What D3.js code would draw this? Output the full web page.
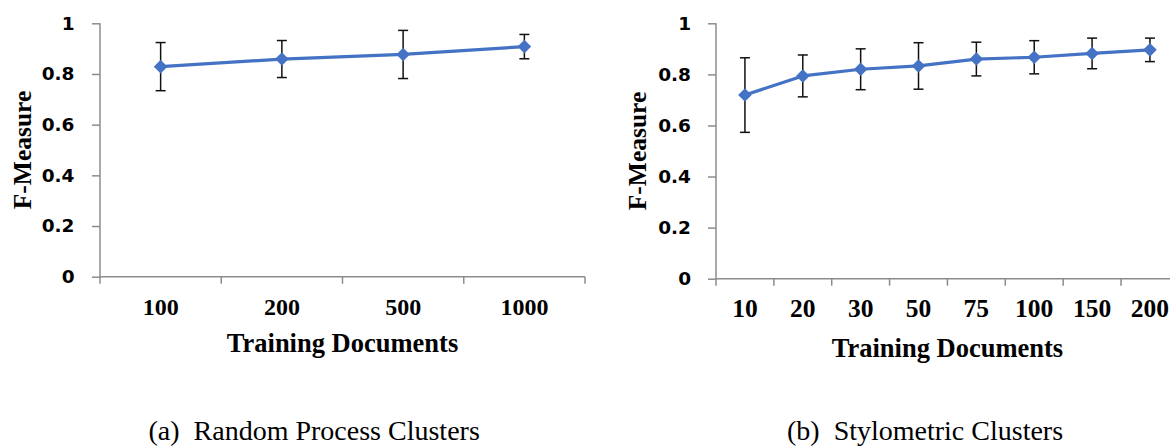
<!DOCTYPE html>
<html>
<head>
<meta charset="utf-8">
<script src="https://cdn.jsdelivr.net/npm/d3@7/dist/d3.min.js"></script>
<style>
  html, body { margin: 0; padding: 0; background: #fff; }
  svg { display: block; }
</style>
</head>
<body>
<svg id="chart" width="1170" height="447"></svg>
<script>
// ---- Data ----
const catsA = ["100", "200", "500", "1000"];
const valsA = [0.829, 0.859, 0.877, 0.908];
const errA  = [0.095, 0.073, 0.095, 0.048];

const catsB = ["10", "20", "30", "50", "75", "100", "150", "200"];
const valsB = [0.719, 0.794, 0.820, 0.833, 0.860, 0.867, 0.882, 0.896];
const errB  = [0.146, 0.082, 0.080, 0.091, 0.066, 0.065, 0.060, 0.046];

const yTicks = [0, 0.2, 0.4, 0.6, 0.8, 1];
const yTitle = "F-Measure";
const xTitle = "Training Documents";
const captionA = "(a)\u00a0 Random Process Clusters";
const captionB = "(b)\u00a0 Stylometric Clusters";

// ---- Style ----
const AXIS = "#8c8c8c";
const LINE = "#4472C4";
const svg = d3.select("#chart");

function panel(cfg) {
  const g = svg.append("g");
  const x = d3.scaleBand().domain(cfg.cats).range([cfg.x0, cfg.x1]);
  const y = d3.scaleLinear().domain([0, 1]).range([cfg.y0, cfg.y1]);

  // y axis
  const ya = g.append("g").attr("transform", `translate(${cfg.x0},0)`)
    .call(d3.axisLeft(y).tickValues(yTicks).tickSize(8).tickPadding(cfg.ypad)
      .tickFormat(d => d === 0 ? "0" : d === 1 ? "1" : d3.format(".1f")(d)));
  ya.select(".domain").remove();
  ya.selectAll(".tick line").attr("stroke", AXIS).attr("stroke-width", 1.5);
  ya.selectAll(".tick text").attr("fill", "#000")
    .style("font-family", "'DejaVu Sans', sans-serif").style("font-weight", "bold")
    .style("font-size", "18.5px");
  g.append("line").attr("x1", cfg.x0).attr("x2", cfg.x0)
    .attr("y1", y(1)).attr("y2", y(0) + 7).attr("stroke", AXIS).attr("stroke-width", 1.5);

  // x axis
  g.append("line").attr("x1", cfg.x0).attr("x2", cfg.x1)
    .attr("y1", y(0)).attr("y2", y(0)).attr("stroke", AXIS).attr("stroke-width", 1.5);
  const bounds = cfg.cats.map(c => x(c)).concat([cfg.x1]).slice(1);
  g.selectAll(".xt").data(bounds).enter().append("line")
    .attr("x1", d => d).attr("x2", d => d)
    .attr("y1", y(0)).attr("y2", y(0) + 7).attr("stroke", AXIS).attr("stroke-width", 1.5);
  g.selectAll(".xl").data(cfg.cats).enter().append("text")
    .attr("x", d => x(d) + x.bandwidth() / 2).attr("y", cfg.xlabY)
    .attr("text-anchor", "middle")
    .style("font-family", "'Liberation Serif', 'Times New Roman', serif")
    .style("font-weight", "bold").style("font-size", cfg.xfs + "px")
    .text(d => d);

  // titles
  g.append("text")
    .attr("x", (cfg.x0 + cfg.x1t) / 2).attr("y", cfg.xtitleY)
    .attr("text-anchor", "middle")
    .style("font-family", "'Liberation Serif', 'Times New Roman', serif")
    .style("font-weight", "bold").style("font-size", "26.5px")
    .text(xTitle);
  g.append("text")
    .attr("transform", `translate(${cfg.ytitleX},${(y(0) + y(1)) / 2}) rotate(-90)`)
    .attr("text-anchor", "middle")
    .style("font-family", "'Liberation Serif', 'Times New Roman', serif")
    .style("font-weight", "bold").style("font-size", "25.5px")
    .text(yTitle);

  const cx = d => x(d) + x.bandwidth() / 2;
  const pts = cfg.cats.map((c, i) => ({ c, v: cfg.vals[i], e: cfg.errs[i] }));

  // error bars
  const eb = g.append("g").attr("stroke", "#111").attr("stroke-width", 1.5);
  pts.forEach(p => {
    eb.append("line").attr("x1", cx(p.c)).attr("x2", cx(p.c))
      .attr("y1", y(p.v + p.e)).attr("y2", y(p.v - p.e));
    [p.v + p.e, p.v - p.e].forEach(v => {
      eb.append("line").attr("x1", cx(p.c) - 5).attr("x2", cx(p.c) + 5)
        .attr("y1", y(v)).attr("y2", y(v));
    });
  });

  // line
  g.append("path").datum(pts)
    .attr("d", d3.line().x(p => cx(p.c)).y(p => y(p.v)))
    .attr("fill", "none").attr("stroke", LINE).attr("stroke-width", 3.2)
    .attr("stroke-linejoin", "round");

  // markers
  g.selectAll(".mk").data(pts).enter().append("path")
    .attr("d", d3.symbol(d3.symbolSquare, 92)())
    .attr("transform", p => `translate(${cx(p.c)},${y(p.v)}) rotate(45)`)
    .attr("fill", LINE);
}

panel({ cats: catsA, vals: valsA, errs: errA, x0: 100, x1: 585, x1t: 585,
  y0: 276.7, y1: 23.3, ypad: 17.5, xlabY: 315, xfs: 24, xtitleY: 352, ytitleX: 31 });
panel({ cats: catsB, vals: valsB, errs: errB, x0: 716, x1: 716 + 8 * 57.86, x1t: 716 + 8 * 57.86,
  y0: 278.7, y1: 23.3, ypad: 17, xlabY: 317, xfs: 25.5, xtitleY: 357, ytitleX: 646 });

// captions
[[captionA, 148.5], [captionB, 787]].forEach(([t, cx]) => {
  svg.append("text").attr("x", cx).attr("y", 440)
    .style("font-family", "'Liberation Serif', 'Times New Roman', serif")
    .style("font-size", "28px").text(t);
});
</script>
</body>
</html>
